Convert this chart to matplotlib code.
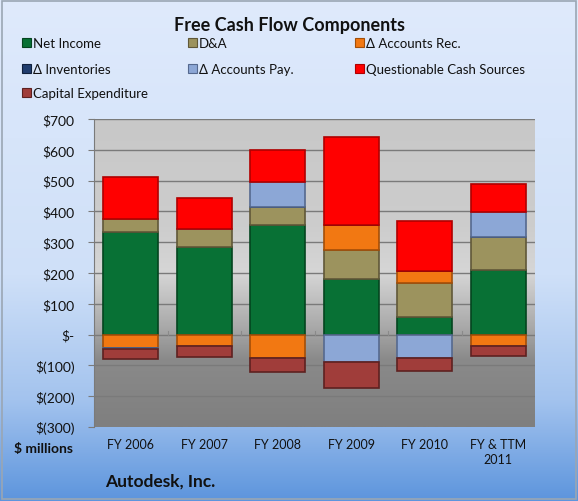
import numpy as np
import matplotlib.pyplot as plt
from matplotlib.colors import LinearSegmentedColormap
from matplotlib.patches import Rectangle

plt.rcParams['font.family'] = ['Lato', 'DejaVu Sans']

# Données (millions $)
annees = ["FY 2006", "FY 2007", "FY 2008", "FY 2009", "FY 2010", "FY & TTM\n2011"]
net_income = [332, 286, 355, 182, 58, 209]
d_and_a = [43, 56, 59, 92, 110, 109]
accounts_rec = [-42, -37, -76, 81, 37, -37]
inventories = [-2, 0, 0, 0, 0, 0]
accounts_pay = [-4, 0, 80, -90, -77, 79]
questionable = [137, 102, 106, 285, 164, 93]
capex = [-32, -37, -44, -83, -40, -32]

series = [
    ("Net Income", net_income, "#087135", "#04451f"),
    ("D&A", d_and_a, "#9c935e", "#605838"),
    ("Δ Accounts Rec.", accounts_rec, "#f27812", "#a44f08"),
    ("Δ Inventories", inventories, "#203d6e", "#10203c"),
    ("Δ Accounts Pay.", accounts_pay, "#8ca7d6", "#55698f"),
    ("Questionable Cash Sources", questionable, "#ff0000", "#b00000"),
    ("Capital Expenditure", capex, "#a03d3a", "#5e2120"),
]

W, H = 578, 502
fig = plt.figure(figsize=(W / 100, H / 100), dpi=100)

# fond dégradé bleu
bg = fig.add_axes([0, 0, 1, 1], zorder=0)
bg_cmap = LinearSegmentedColormap.from_list(
    "bg", [(0, "#dfeafc"), (0.55, "#cfe0f8"), (0.8, "#a3c3ee"), (1, "#5d95dd")])
bg.imshow(np.linspace(0, 1, 256).reshape(-1, 1), aspect="auto", cmap=bg_cmap,
          extent=[0, 1, 0, 1], origin="upper")
bg.add_patch(Rectangle((0.003, 0.004), 0.994, 0.992, fill=False,
                       edgecolor="#9aa6b4", lw=1.2, transform=bg.transAxes))
bg.set_axis_off()

ax = fig.add_axes([94 / W, 1 - 428 / H, 441 / W, 308 / H], zorder=1)
ax.set_xlim(-0.5, len(annees) - 0.5)
ax.set_ylim(-300, 700)

# fond gris dégradé de la zone de tracé
gris = LinearSegmentedColormap.from_list(
    "gris", [(0, "#c8c8c8"), (0.35, "#cdcdcd"), (0.5, "#d6d6d6"),
             (0.68, "#a8a8a8"), (0.78, "#8a8a8a"), (1, "#7f7f7f")])
ax.imshow(np.linspace(0, 1, 256).reshape(-1, 1), aspect="auto", cmap=gris,
          extent=[-0.5, len(annees) - 0.5, -300, 700], origin="upper", zorder=0)

for y in range(-200, 701, 100):
    ax.axhline(y, color="#7a7a7a", lw=1, zorder=1)

x = np.arange(len(annees))
pos_bottom = np.zeros(len(annees))
neg_bottom = np.zeros(len(annees))
for nom, vals, couleur, bord in series:
    vals = np.array(vals, dtype=float)
    bottoms = np.where(vals >= 0, pos_bottom, neg_bottom)
    ax.bar(x, vals, 0.75, bottom=bottoms, color=couleur, edgecolor=bord,
           linewidth=1.2, label=nom, zorder=3)
    pos_bottom += np.where(vals >= 0, vals, 0)
    neg_bottom += np.where(vals < 0, vals, 0)

def fmt(v):
    if v == 0:
        return "$-"
    if v < 0:
        return f"$({abs(v)})"
    return f"${v}"

yt = list(range(-300, 701, 100))
ax.set_yticks(yt)
ax.set_yticklabels([fmt(v) for v in yt], fontsize=10, color="#111111")
ax.set_xticks(x)
ax.set_xticklabels(annees, fontsize=9, color="#111111", linespacing=1.3)
ax.tick_params(axis="y", length=4, color="#7a7a7a", pad=10)
ax.tick_params(axis="x", length=0, pad=8)
for b in np.arange(-0.5, len(annees), 1.0):
    ax.plot([b, b], [0, 12], color="#8a8a8a", lw=0.8, zorder=2)
for s in ["top", "right", "bottom"]:
    ax.spines[s].set_visible(False)
ax.spines["left"].set_color("#7a7a7a")

fig.text(0.5, 1 - 25 / H, "Free Cash Flow Components", ha="center", va="center",
         fontsize=13, fontweight="bold", color="#111111")

handles, labels = ax.get_legend_handles_labels()
col_x = [22, 188, 355]
row_y = [44, 70, 94]
for i, (h, lab) in enumerate(zip(handles, labels)):
    px = col_x[i % 3]
    py = row_y[i // 3]
    fig.patches.append(Rectangle(((px) / W, 1 - (py + 4) / H), 9 / W, 9 / H,
                                 facecolor=series[i][2], edgecolor=series[i][3],
                                 lw=0.8, transform=fig.transFigure, figure=fig,
                                 zorder=5))
    fig.text((px + 11) / W, 1 - py / H, lab, ha="left", va="center",
             fontsize=9.5, color="#111111")

fig.text(73 / W, 1 - 449 / H, "$ millions", ha="right", va="center",
         fontsize=10, fontweight="bold", color="#111111")
fig.text(105 / W, 1 - 482 / H, "Autodesk, Inc.", ha="left", va="center",
         fontsize=12.5, fontweight="bold", color="#111111")

fig.savefig("out.png", dpi=100)
